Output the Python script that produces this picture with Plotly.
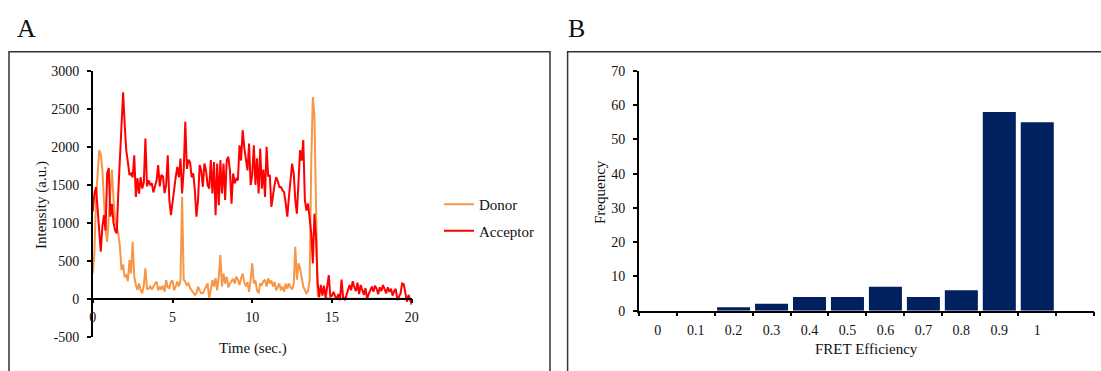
import numpy as np
import plotly.graph_objects as go

# ---------------- data ----------------
time_sec = np.round(np.arange(0, 201) * 0.1, 1)

donor = [
    330, 600, 1300, 1700, 1956, 1900, 1700, 1300, 900, 750,
    1100, 1450, 1700, 1300, 1050, 950, 860, 684, 377, 450,
    280, 320, 230, 508, 330, 750, 290, 180, 114, 200,
    114, 70, 180, 400, 130, 130, 160, 120, 170, 200,
    224, 110, 160, 120, 170, 90, 245, 150, 140, 220,
    240, 110, 160, 224, 160, 240, 1342, 250, 220, 180,
    200, 140, 110, 70, 48, 70, 158, 110, 70, 70,
    110, 160, 200, 4, 160, 245, 160, 270, 110, 290,
    575, 160, 330, 200, 290, 150, 200, 240, 260, 200,
    290, 250, 180, 270, 330, 220, 160, 220, 90, 250,
    465, 200, 240, 110, 70, 200, 180, 230, 250, 160,
    267, 200, 240, 160, 220, 110, 160, 200, 110, 160,
    90, 200, 130, 200, 150, 120, 200, 684, 250, 465,
    400, 245, 158, 114, 70, 100, 245, 1800, 2658, 2400,
    1100, 50, 0, 0, 5, 0, 0, 10, 0, 0,
    0, 0, 5, 0, 0, 0, 0, 0, 10, 0,
    0, 0, 0, 5, 0, 0, 0, 0, 0, 0,
    0, 5, 0, 0, 0, 0, 0, 0, 0, 0,
    0, 0, 0, 0, 5, 0, 0, 0, 0, 0,
    0, 0, 0, 0, 0, 0, 0, 0, 0, 0,
    0,
]

acceptor = [
    1150, 1380, 1470, 1200, 900, 620, 950, 1100, 900, 1650,
    1720, 1080, 1250, 1000, 900, 860, 1400, 1825, 2400, 2720,
    2300, 1950, 1800, 1630, 1650, 1600, 1890, 1340, 1590, 1385,
    1600, 1450, 1530, 2110, 1480, 1560, 1500, 1520, 1400, 1470,
    1560, 1760, 1480, 1630, 1610, 1390, 1500, 1890, 1300, 1100,
    1290, 1420, 1600, 1737, 1600, 1846, 1386, 1690, 2330, 1710,
    1830, 1800, 1600, 1650, 1430, 1080, 1300, 1760, 1690, 1474,
    1780, 1690, 1495, 1450, 1825, 1386, 1800, 1100, 1780, 1230,
    1825, 1386, 1780, 1300, 1825, 1870, 1690, 1250, 1650, 1520,
    1580, 1560, 2020, 1820, 2220, 1990, 1820, 1690, 2044, 1495,
    1630, 2020, 1500, 1850, 1386, 1978, 1450, 1700, 1340, 2000,
    1610, 1630, 1210, 1380, 1500, 1600, 1550, 1470, 1470, 1430,
    1400, 1255, 1080, 1340, 1605, 1780, 1650, 1300, 1120, 1650,
    1956, 1820, 2090, 1300, 1160, 1254, 1080, 860, 465, 1120,
    800, 200, 25, 180, 40, 170, 10, 190, 310, 20,
    40, 90, 30, 0, 60, -20, 250, 10, -10, 40,
    120, 180, 110, 230, 150, 100, 210, 60, 180, 110,
    50, 140, 0, 60, 110, 160, 90, 170, 130, 60,
    150, 100, 180, 120, 70, 150, 90, 130, 40, 100,
    130, -20, 30, 70, 200, 190, 80, -40, 50, -10,
    -80,
]

intensity_ticks = [-500, 0, 500, 1000, 1500, 2000, 2500, 3000]
intensity_tick_labels = ["-500", "0", "500", "1000", "1500", "2000", "2500", "3000"]

fret_bins = ["0", "0.1", "0.2", "0.3", "0.4", "0.5", "0.6", "0.7", "0.8", "0.9", "1"]
frequency = [0, 0, 1, 2, 4, 4, 7, 4, 6, 58, 55]

# ---------------- figure ----------------
W, H = 1101, 371
FONT = "Liberation Serif"
TXT = "#111111"
TICK_SIZE = 14
TITLE_SIZE = 15


def px(x):
    return x / W


def py(y):
    return 1 - y / H


fig = go.Figure()

fig.add_trace(go.Scatter(
    x=time_sec, y=donor, mode="lines", name="Donor",
    line=dict(color="#F79646", width=2), xaxis="x", yaxis="y",
    legendgroup="d",
))
fig.add_trace(go.Scatter(
    x=time_sec, y=acceptor, mode="lines", name="Acceptor",
    line=dict(color="#FF0000", width=2), xaxis="x", yaxis="y",
    legendgroup="a",
))
fig.add_trace(go.Bar(
    x=list(range(len(fret_bins))), y=frequency,
    marker=dict(color="#002060", line=dict(width=0)),
    xaxis="x2", yaxis="y2", showlegend=False,
))

axis_common = dict(
    showgrid=False, zeroline=False, showline=True, linecolor="black", linewidth=1.5,
    ticks="outside", ticklen=4, tickwidth=1.5, tickcolor="black", automargin=False,
    tickfont=dict(family=FONT, size=TICK_SIZE, color=TXT),
)

fig.update_layout(
    width=W, height=H, autosize=False,
    margin=dict(l=0, r=0, t=0, b=0, pad=0, autoexpand=False),
    paper_bgcolor="white", plot_bgcolor="white",
    font=dict(family=FONT, color=TXT),
    bargap=0.13,
    xaxis=dict(
        **axis_common,
        domain=[px(92.8), px(411.7)], range=[0, 20], dtick=5, tick0=0,
        anchor="free", position=py(298.7), ticklabelstandoff=2,
    ),
    yaxis=dict(
        **axis_common,
        domain=[py(336.6), py(71)], range=[-500, 3000],
        tickmode="array", tickvals=intensity_ticks, ticktext=intensity_tick_labels,
        anchor="x", ticklabelstandoff=5,
    ),
    xaxis2=dict(
        showgrid=False, zeroline=False, showline=True, linecolor="black", linewidth=1.5,
        automargin=False,
        domain=[px(638.7), px(1094.2)], range=[-0.5, 11.5],
        tickmode="array", tickvals=list(range(len(fret_bins))), ticktext=fret_bins,
        ticks="outside", ticklen=6, tickcolor="rgba(0,0,0,0)",
        tickfont=dict(family=FONT, size=TICK_SIZE, color=TXT),
        minor=dict(tickmode="linear", tick0=0.5, dtick=1, ticks="outside", ticklen=4,
                   tickwidth=1.5, tickcolor="black", showgrid=False),
        anchor="y2",
    ),
    yaxis2=dict(
        **axis_common,
        domain=[py(310.7), py(71)], range=[0, 70], dtick=10, tick0=0,
        anchor="x2", ticklabelstandoff=5,
    ),
    legend=dict(
        x=px(439), y=py(188), xanchor="left", yanchor="top",
        font=dict(family=FONT, size=TITLE_SIZE, color=TXT),
        bgcolor="rgba(0,0,0,0)", tracegroupgap=4,
    ),
    showlegend=True,
)

# frames (they run off the bottom / right edge of the picture)
fig.add_shape(type="path", xref="paper", yref="paper",
              path=f"M {px(9)},0 L {px(9)},{py(51.7)} L {px(550)},{py(51.7)} L {px(550)},0",
              line=dict(color="#333", width=1.5))
fig.add_shape(type="path", xref="paper", yref="paper",
              path=f"M {px(567.6)},0 L {px(567.6)},{py(51.7)} L 1,{py(51.7)}",
              line=dict(color="#333", width=1.5))

ann = [
    dict(text="A", x=px(15), y=py(45), xanchor="left", yanchor="bottom", font=dict(size=26)),
    dict(text="B", x=px(566), y=py(45), xanchor="left", yanchor="bottom", font=dict(size=26)),
    dict(text="Time (sec.)", x=px(253), y=py(348), xanchor="center", yanchor="middle",
         font=dict(size=TITLE_SIZE)),
    dict(text="Intensity (a.u.)", x=px(41), y=py(205), xanchor="center", yanchor="middle",
         textangle=-90, font=dict(size=TITLE_SIZE)),
    dict(text="FRET Efficiency", x=px(866), y=py(349), xanchor="center", yanchor="middle",
         font=dict(size=TITLE_SIZE)),
    dict(text="Frequency", x=px(600), y=py(192), xanchor="center", yanchor="middle",
         textangle=-90, font=dict(size=TITLE_SIZE)),
]
for a in ann:
    a.update(xref="paper", yref="paper", showarrow=False)
    a["font"] = dict(family=FONT, color=TXT, **a["font"])
    fig.add_annotation(**a)

fig.write_html(
    "out.html",
    config={"displayModeBar": False},
    post_script=(
        "document.documentElement.style.margin='0';"
        "document.body.style.margin='0';document.body.style.padding='0';"
        "document.body.style.overflow='hidden';"
    ),
)
